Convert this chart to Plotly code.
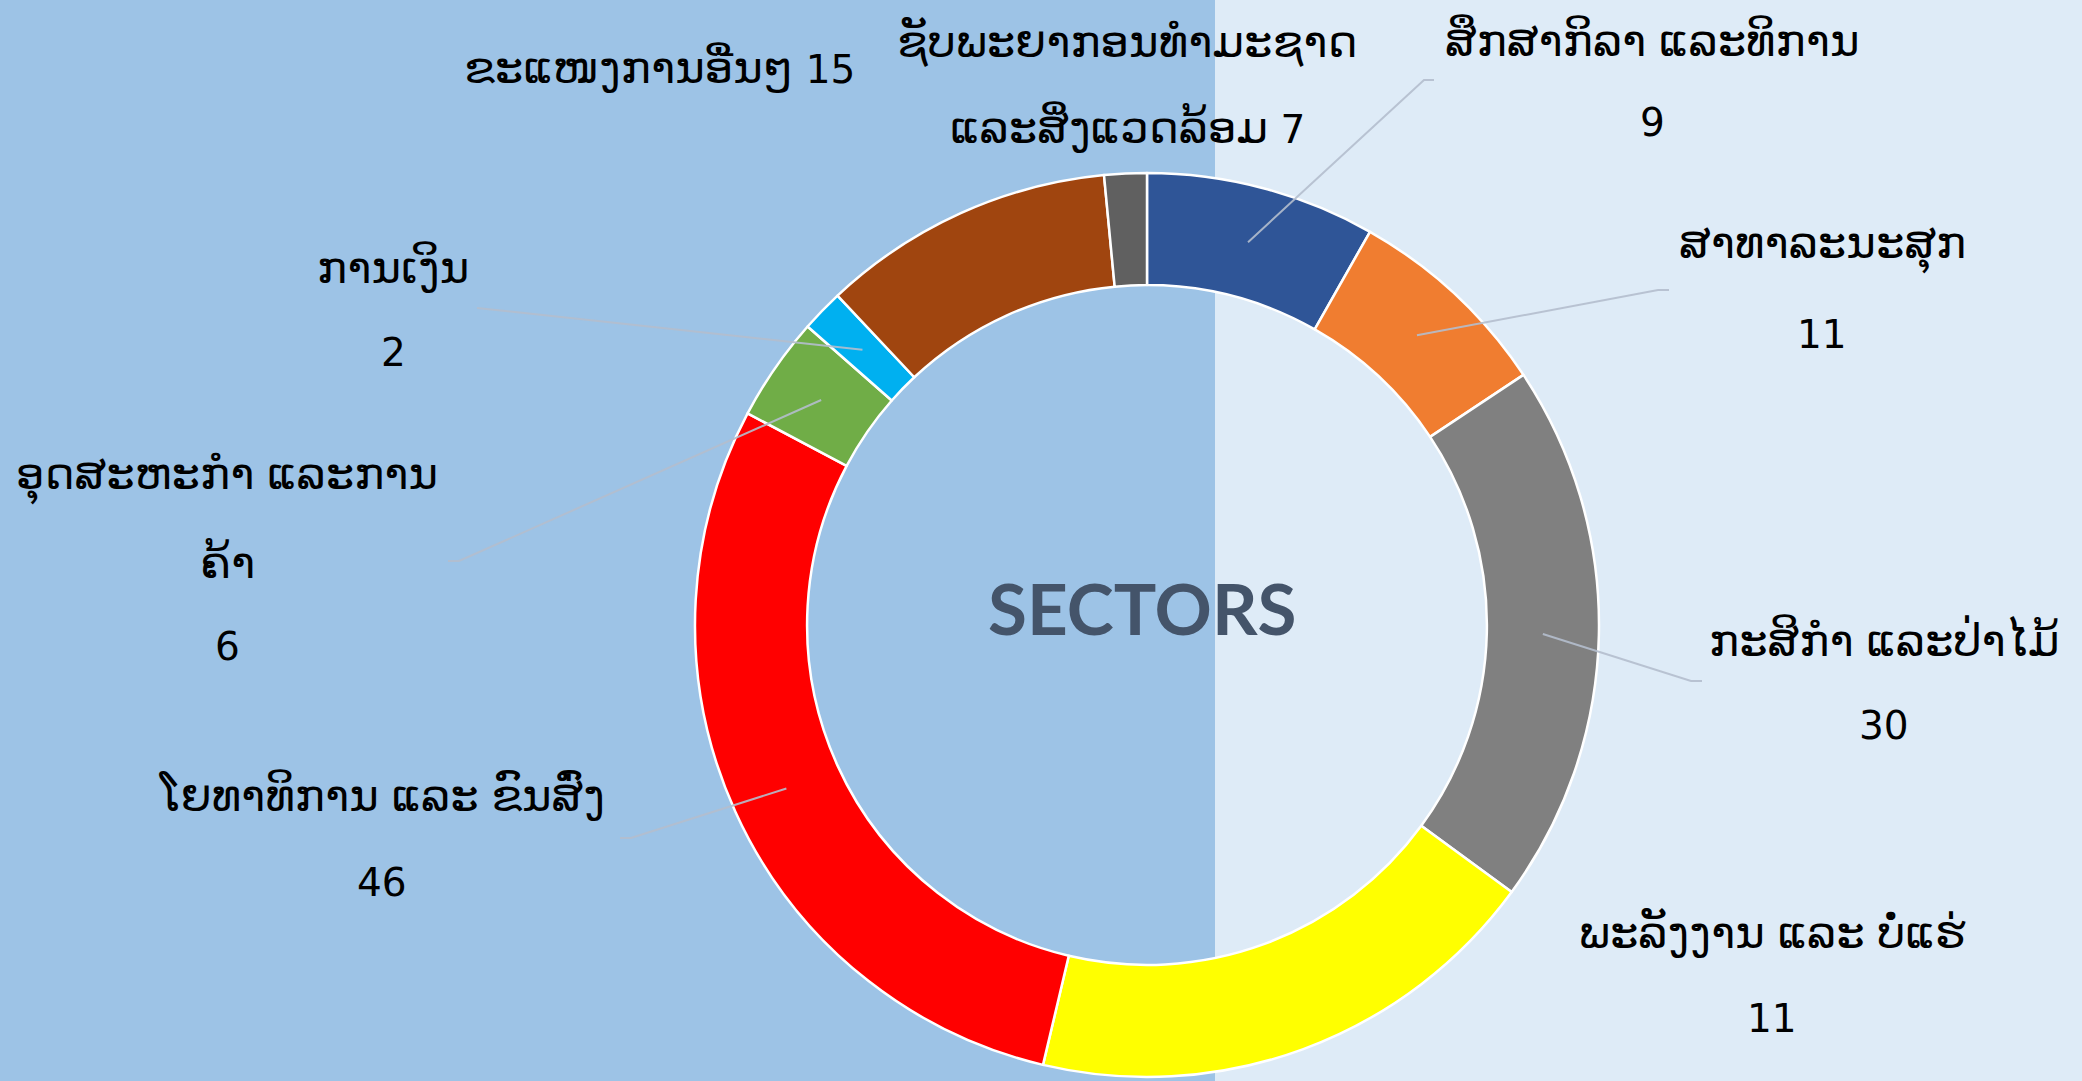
import math
import plotly.graph_objects as go

W, H = 2082, 1081

# ---- data ----
sectors = [
    "ສຶກສາກິລາ ແລະທິການ",
    "ສາທາລະນະສຸກ",
    "ກະສິກຳ ແລະປ່າໄມ້",
    "ພະລັງງານ ແລະ ບໍ່ແຮ່",
    "ໂຍທາທິການ ແລະ ຂົນສົ່ງ",
    "ອຸດສະຫະກຳ ແລະການຄ້າ",
    "ການເງິນ",
    "ຂະແໜງການອື່ນໆ",
    "ຊັບພະຍາກອນທຳມະຊາດ ແລະສິ່ງແວດລ້ອມ",
]
# slice sizes as drawn
slice_values = [13, 11.8, 30.7, 29.5, 46, 5.9, 2.4, 16.6, 2.4]
# numbers printed in the labels
label_numbers = [9, 11, 30, 11, 46, 6, 2, 15, 7]
colors = ["#2F5597", "#F07D30", "#808080", "#FFFF00", "#FF0000",
          "#70AD47", "#00B0F0", "#A0450F", "#606060"]

# ---- geometry (pixels) ----
cx, cy, R = 1147, 625, 452
hole = 0.752
split_x = 1215

dom_x = [(cx - R) / W, (cx + R) / W]
dom_y = [(H - cy - R) / H, (H - cy + R) / H]

fig = go.Figure(go.Pie(
    labels=sectors, values=slice_values, sort=False, direction="clockwise",
    rotation=0, hole=hole, textinfo="none", hoverinfo="label+value",
    marker=dict(colors=colors, line=dict(color="white", width=2.5)),
    domain=dict(x=dom_x, y=dom_y), showlegend=False,
))

shapes = [dict(type="rect", xref="paper", yref="paper", x0=0, x1=split_x / W,
               y0=0, y1=1, fillcolor="#9DC3E6", line=dict(width=0), layer="below")]

def px(x, y):
    return x / W, (H - y) / H

# leader lines: start at ring middle of slice mid-angle (computed from data)
total = sum(slice_values)
mid_angles = []
acc = 0
for v in slice_values:
    mid_angles.append((acc + v / 2) / total * 360)
    acc += v
r_mid = R * (1 + hole) / 2

leaders = {  # slice index -> (elbow point, end point) in pixels
    0: ((1424, 80), (1434, 80)),
    1: ((1658, 290), (1669, 290)),
    2: ((1691, 681), (1702, 681)),
    4: ((631, 838), (620, 838)),
    5: ((459, 561), (448, 561)),
    6: ((477, 308), (477, 308)),
}
for i, (elb, end) in leaders.items():
    a = math.radians(mid_angles[i])
    sx = cx + r_mid * math.sin(a)
    sy = cy - r_mid * math.cos(a)
    pts = [px(sx, sy), px(*elb), px(*end)]
    path = "M {} {} L {} {} L {} {}".format(pts[0][0], pts[0][1], pts[1][0], pts[1][1], pts[2][0], pts[2][1])
    shapes.append(dict(type="path", xref="paper", yref="paper", path=path,
                       line=dict(color="rgba(180,190,205,0.9)", width=2)))

LAO_SIZE = 45
NUM_SIZE = 39
font = dict(family="Liberation Sans, DejaVu Sans, sans-serif", size=LAO_SIZE, color="black")

def num(n):
    return '<span style="font-size:%dpx;font-family:DejaVu Sans">%s</span>' % (NUM_SIZE, n)

# label text lines and their centre positions (pixels)
label_lines = [
    ([sectors[0], num(label_numbers[0])], 1652, [40, 123]),
    ([sectors[1], num(label_numbers[1])], 1822, [246, 334]),
    ([sectors[2], num(label_numbers[2])], 1884, [640, 725]),
    ([sectors[3], num(label_numbers[3])], 1772, [932, 1018]),
    ([sectors[4], num(label_numbers[4])], 382, [795, 882]),
    (["ອຸດສະຫະກຳ ແລະການ", "ຄ້າ", num(label_numbers[5])], 227, [477, 562, 647]),
    ([sectors[6], num(label_numbers[6])], 393, [267, 352]),
    ([sectors[7] + " " + num(label_numbers[7])], 659, [68]),
    (["ຊັບພະຍາກອນທຳມະຊາດ", "ແລະສິ່ງແວດລ້ອມ " + num(label_numbers[8])], 1127, [42, 127]),
]
annotations = []
for lines, x, ys in label_lines:
    for t, y in zip(lines, ys):
        ax, ay = px(x, y)
        annotations.append(dict(text=t, x=ax, y=ay, xref="paper", yref="paper",
                                showarrow=False, xanchor="center", yanchor="middle",
                                font=font))

cxp, cyp = px(1142, 607)
annotations.append(dict(text="<b>SECTORS</b>", x=cxp, y=cyp, xref="paper", yref="paper",
                        showarrow=False, xanchor="center", yanchor="middle",
                        font=dict(family="Lato, Open Sans, sans-serif", size=71, color="#44546A")))

fig.update_layout(
    width=W, height=H, margin=dict(l=0, r=0, t=0, b=0),
    paper_bgcolor="#DEEBF7", plot_bgcolor="#DEEBF7",
    shapes=shapes, annotations=annotations,
)
fig.write_html("out.html", config={"displayModeBar": False},
               post_script="document.body.style.margin='0';document.body.style.overflow='hidden';")
